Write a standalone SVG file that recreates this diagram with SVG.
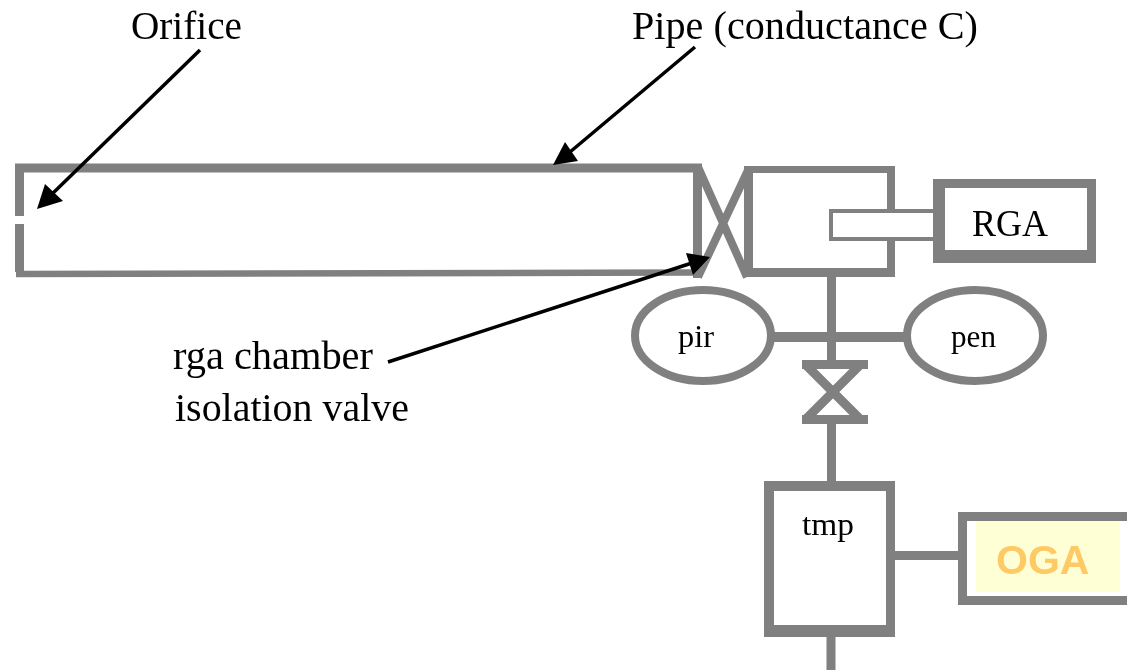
<svg xmlns="http://www.w3.org/2000/svg" width="1127" height="670" viewBox="0 0 1127 670">
<style>
.ln{fill:none;stroke:#808080;stroke-linejoin:miter}
.g{fill:#808080;fill-rule:evenodd}
.t{font-family:"Liberation Serif","Times New Roman",serif;fill:#000}
.ar{fill:none;stroke:#000;stroke-width:3.500}
.h{fill:#000}
</style>
<defs><filter id="b" x="-2%" y="-2%" width="104%" height="104%"><feGaussianBlur stdDeviation="0.7"/></filter></defs>
<rect width="1127" height="670" fill="#fff"/>
<g filter="url(#b)">
<g id="connectors">
<path class="ln" stroke-width="9" d="M831.500 277V362M831.500 424V483M831 637V670"/>
<path class="ln" stroke-width="10" d="M773 337H905"/>
<path class="ln" stroke-width="9" d="M895 555.500H958"/>
</g>
<g id="pipe">
<path class="ln" stroke-width="9" d="M19.500 216V168H697.500V278"/>
<path class="ln" stroke-width="9" d="M19.500 224V272"/>
<path class="ln" stroke-width="6.500" d="M16 274L694 272.500"/>
</g>
<g id="rga-valve">
<path class="ln" stroke-width="8" d="M698 167L747 277M749 168L698 277"/>
</g>
<g id="chamber">
<path class="g" d="M744 166H895V277H744ZM753 173V268H887V173Z"/>
</g>
<g id="rga">
<rect x="831" y="211" width="104" height="28" fill="#fff" stroke="#808080" stroke-width="4"/>
<path class="g" d="M933 179H1096V263H933ZM945 188V250H1087V188Z"/>
<text class="t" x="972" y="236" font-size="37" textLength="76" lengthAdjust="spacingAndGlyphs">RGA</text>
</g>
<g id="pir">
<ellipse class="ln" cx="703" cy="335.500" rx="68" ry="45.500" fill="#fff" stroke-width="8"/>
<text class="t" x="678" y="347" font-size="31" textLength="36" lengthAdjust="spacingAndGlyphs">pir</text>
</g>
<g id="pen">
<ellipse class="ln" cx="975" cy="335.500" rx="68" ry="45.500" stroke-width="8"/>
<text class="t" x="951" y="347" font-size="31" textLength="45" lengthAdjust="spacingAndGlyphs">pen</text>
</g>
<g id="valve">
<path class="g" d="M802 360H868V369H802ZM802 415H868V424H802Z"/>
<path class="ln" stroke-width="9" d="M806 365L860 419M860 365L806 419"/>
</g>
<g id="tmp">
<path class="g" d="M764 481H895V637H764ZM774 491V625H886V491Z"/>
<text class="t" x="802" y="535" font-size="31" textLength="52" lengthAdjust="spacingAndGlyphs">tmp</text>
</g>
<g id="oga">
<path class="g" d="M958 512H1127V605H958ZM967 521V596H1127V521Z"/>
<rect x="976" y="521" width="144" height="71" fill="#ffffd5"/>
<text x="996" y="574" font-family="'Liberation Sans',Arial,sans-serif" font-weight="700" font-size="41" fill="#ffc966">OGA</text>
</g>
<g id="labels">
<text class="t" x="131" y="39" font-size="39" textLength="111" lengthAdjust="spacingAndGlyphs">Orifice</text>
<text class="t" x="632" y="39" font-size="39" textLength="346" lengthAdjust="spacingAndGlyphs">Pipe (conductance C)</text>
<text class="t" x="173" y="369" font-size="39" textLength="200" lengthAdjust="spacingAndGlyphs">rga chamber</text>
<text class="t" x="175" y="421" font-size="39" textLength="234" lengthAdjust="spacingAndGlyphs">isolation valve</text>
</g>
<g id="arrows">
<path class="ar" d="M200 50L50 196M695 47L570 152M388 362L695 262"/>
<path class="h" d="M37 209L45 184L63 201Z"/>
<path class="h" d="M553 165L565 142L578 161Z"/>
<path class="h" d="M710 257L686 253L693 275Z"/>
</g>
</g>
</svg>
